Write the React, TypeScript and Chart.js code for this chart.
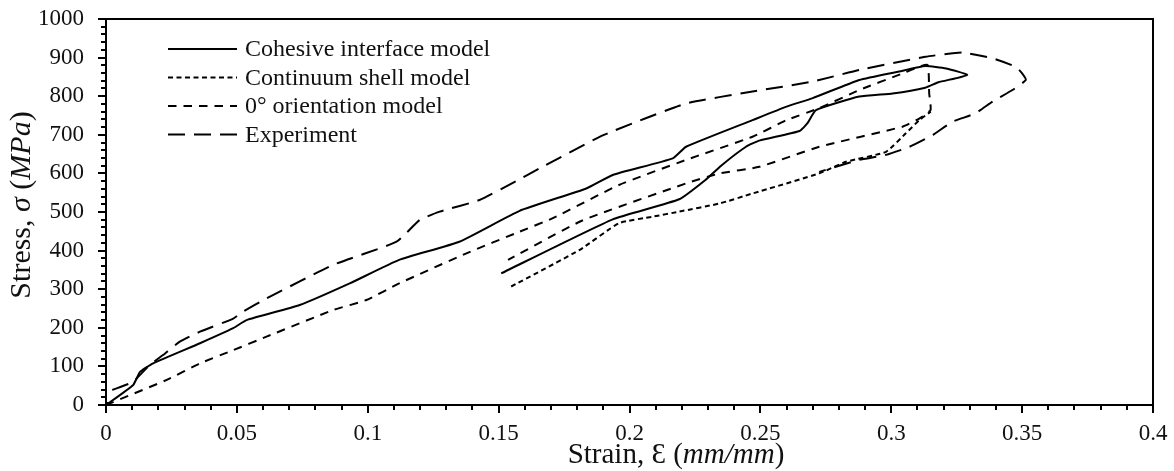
import React, { useEffect, useRef } from "react";
import { Chart, registerables } from "chart.js";
Chart.register(...registerables);

const FONT = "'Liberation Serif', 'Times New Roman', serif";

// Cohesive interface model (solid) – loading up then unloading back
const cohesiveStrain = [0, 0.0104, 0.013, 0.018, 0.0359, 0.0486, 0.0537, 0.074, 0.0931, 0.112, 0.135, 0.158, 0.1835, 0.1936, 0.2165, 0.2216, 0.247, 0.26, 0.27, 0.2878, 0.303, 0.313, 0.321, 0.329, 0.318, 0.313, 0.3005, 0.2878, 0.2712, 0.268, 0.265, 0.2496, 0.2445, 0.235, 0.229, 0.219, 0.1936, 0.151];
const cohesiveStress = [0, 52, 86, 108, 160, 199, 220, 259, 315, 376, 423, 503, 561, 596, 639, 669, 738, 773, 795, 842, 864, 878, 872, 855, 836, 822, 807, 799, 764, 730, 710, 685, 669, 620, 583, 533, 481, 341];

// Continuum shell model (fine dashes)
const shellStrain = [0.1548, 0.181, 0.196, 0.209, 0.219, 0.2344, 0.247, 0.2725, 0.2827, 0.298, 0.3056, 0.3107, 0.3151];
const shellStress = [307, 402, 471, 488, 501, 522, 548, 600, 630, 656, 704, 738, 760];

// 0° orientation model (medium dashes)
const zeroStrain = [0, 0.0232, 0.0359, 0.0486, 0.0613, 0.0868, 0.0995, 0.112, 0.1377, 0.158, 0.1707, 0.196, 0.2216, 0.247, 0.26, 0.2725, 0.2878, 0.3043, 0.309, 0.3139, 0.3145, 0.315, 0.3107, 0.3043, 0.2725, 0.2496, 0.2344, 0.2216, 0.182, 0.1536];
const zeroStress = [0, 65, 108, 142, 177, 246, 272, 315, 393, 449, 484, 570, 635, 695, 738, 769, 816, 859, 872, 881, 807, 764, 742, 721, 669, 617, 600, 574, 478, 376];

// Experiment (long dashes)
const expStrain = [0.0024, 0.0104, 0.013, 0.0168, 0.0219, 0.0282, 0.0359, 0.0486, 0.0524, 0.0613, 0.0868, 0.111, 0.1198, 0.1275, 0.1427, 0.158, 0.1656, 0.19, 0.2216, 0.247, 0.27, 0.2878, 0.313, 0.327, 0.3387, 0.3476, 0.35, 0.3514, 0.3463, 0.3387, 0.332, 0.3234, 0.316, 0.307, 0.298, 0.2878, 0.2725];
const expStress = [39, 60, 78, 104, 130, 164, 190, 224, 242, 276, 363, 423, 479, 501, 531, 585, 613, 699, 781, 812, 838, 868, 902, 913, 898, 876, 859, 842, 816, 786, 755, 734, 700, 669, 648, 635, 604];

const seriesNames = ["Cohesive interface model", "Continuum shell model", "0° orientation model", "Experiment"];
const seriesDash = [[], [5, 3.5], [8.5, 7], [17, 9]];

const xTickValues = [0, 0.05, 0.1, 0.15, 0.2, 0.25, 0.3, 0.35, 0.4];
const yTickValues = [0, 100, 200, 300, 400, 500, 600, 700, 800, 900, 1000];

const toPoints = (xs: number[], ys: number[]) => xs.map((x, i) => ({ x, y: ys[i] }));

function drawRich(ctx: CanvasRenderingContext2D, parts: [string, boolean][], cx: number, cy: number, size: number) {
  let total = 0;
  const widths = parts.map(([t, it]) => {
    ctx.font = `${it ? "italic " : ""}${size}px ${FONT}`;
    const w = ctx.measureText(t).width;
    total += w;
    return w;
  });
  let x = cx - total / 2;
  ctx.textAlign = "left";
  ctx.textBaseline = "middle";
  parts.forEach(([t, it], i) => {
    ctx.font = `${it ? "italic " : ""}${size}px ${FONT}`;
    ctx.fillText(t, x, cy);
    x += widths[i];
  });
}

const zeroPad = (s: any) => {
  s.paddingTop = 0;
  s.paddingBottom = 0;
  s.paddingLeft = 0;
  s.paddingRight = 0;
};

const decorPlugin = {
  id: "decor",
  afterDraw(chart: any) {
    const { ctx, chartArea: a, scales } = chart;
    const xs = scales.x;
    const ys = scales.y;
    ctx.save();
    ctx.strokeStyle = "#000";
    ctx.fillStyle = "#000";
    ctx.lineWidth = 2;
    ctx.setLineDash([]);
    ctx.strokeRect(a.left, a.top, a.right - a.left, a.bottom - a.top);
    // y ticks (major every 100, minor every 20)
    for (let i = 0; i <= 50; i++) {
      const py = Math.round(ys.getPixelForValue(i * 20));
      const len = i % 5 === 0 ? 8 : 5;
      ctx.beginPath();
      ctx.moveTo(a.left, py);
      ctx.lineTo(a.left - len, py);
      ctx.stroke();
    }
    // x ticks (major every 0.05, minor every 0.01)
    for (let i = 0; i <= 40; i++) {
      const px = Math.round(xs.getPixelForValue(i * 0.01));
      const len = i % 5 === 0 ? 8 : 5;
      ctx.beginPath();
      ctx.moveTo(px, a.bottom);
      ctx.lineTo(px, a.bottom + len);
      ctx.stroke();
    }
    // legend
    const lx0 = 168, lx1 = 237, tx = 245, ly0 = 49, dy = 28.5;
    chart.data.datasets.forEach((ds: any, i: number) => {
      const yy = ly0 + i * dy;
      ctx.lineWidth = 2;
      ctx.strokeStyle = "#000";
      ctx.setLineDash(ds.borderDash || []);
      ctx.beginPath();
      ctx.moveTo(lx0, yy);
      ctx.lineTo(lx1, yy);
      ctx.stroke();
      ctx.setLineDash([]);
      ctx.font = `24px ${FONT}`;
      ctx.textAlign = "left";
      ctx.textBaseline = "middle";
      ctx.fillStyle = "#111";
      ctx.fillText(ds.label, tx, yy + 1);
    });
    // axis titles
    ctx.fillStyle = "#111";
    drawRich(ctx, [["Strain, Ɛ (", false], ["mm/mm", true], [")", false]], 676, 455, 29);
    ctx.translate(22, 205);
    ctx.rotate(-Math.PI / 2);
    drawRich(ctx, [["Stress, ", false], ["σ", true], [" (", false], ["MPa", true], [")", false]], 0, 0, 30);
    ctx.restore();
  },
};

export default function App() {
  const ref = useRef<HTMLCanvasElement>(null);
  useEffect(() => {
    if (!ref.current) return;
    const common = { pointRadius: 0, borderColor: "#000", borderWidth: 2, tension: 0.15, fill: false };
    const chart = new Chart(ref.current, {
      type: "line",
      data: {
        datasets: [
          { ...common, label: seriesNames[0], data: toPoints(cohesiveStrain, cohesiveStress), borderDash: seriesDash[0],
            pointRadius: (c: any) => (c.dataIndex === 0 ? 3 : 0), pointStyle: "rect", pointBackgroundColor: "#000" },
          { ...common, label: seriesNames[1], data: toPoints(shellStrain, shellStress), borderDash: seriesDash[1] },
          { ...common, label: seriesNames[2], data: toPoints(zeroStrain, zeroStress), borderDash: seriesDash[2] },
          { ...common, label: seriesNames[3], data: toPoints(expStrain, expStress), borderDash: seriesDash[3] },
        ],
      },
      options: {
        responsive: false,
        animation: false,
        layout: { padding: { top: 19, right: 21, left: 0, bottom: 0 } },
        plugins: { legend: { display: false }, tooltip: { enabled: false } },
        scales: {
          x: {
            type: "linear",
            min: 0,
            max: 0.4,
            afterFit: (s: any) => { s.height = 66; zeroPad(s); },
            afterBuildTicks: (s: any) => { s.ticks = xTickValues.map((v) => ({ value: v })); },
            grid: { display: false },
            border: { display: false },
            ticks: {
              color: "#111",
              padding: 7,
              maxRotation: 0,
              font: { family: FONT, size: 23 },
              callback: (v: any) => String(Number(Number(v).toFixed(2))),
            },
          },
          y: {
            type: "linear",
            min: 0,
            max: 1000,
            afterFit: (s: any) => { s.width = 106; zeroPad(s); },
            afterBuildTicks: (s: any) => { s.ticks = yTickValues.map((v) => ({ value: v })); },
            grid: { display: false },
            border: { display: false },
            ticks: { color: "#111", padding: 14, font: { family: FONT, size: 23 }, callback: (v: any) => String(v) },
          },
        },
      },
      plugins: [decorPlugin],
    } as any);
    return () => chart.destroy();
  }, []);
  return (
    <div style={{ position: "absolute", left: 0, top: 0, width: 1174, height: 471, background: "#fff" }}>
      <canvas ref={ref} width={1174} height={471} style={{ display: "block" }} />
    </div>
  );
}
